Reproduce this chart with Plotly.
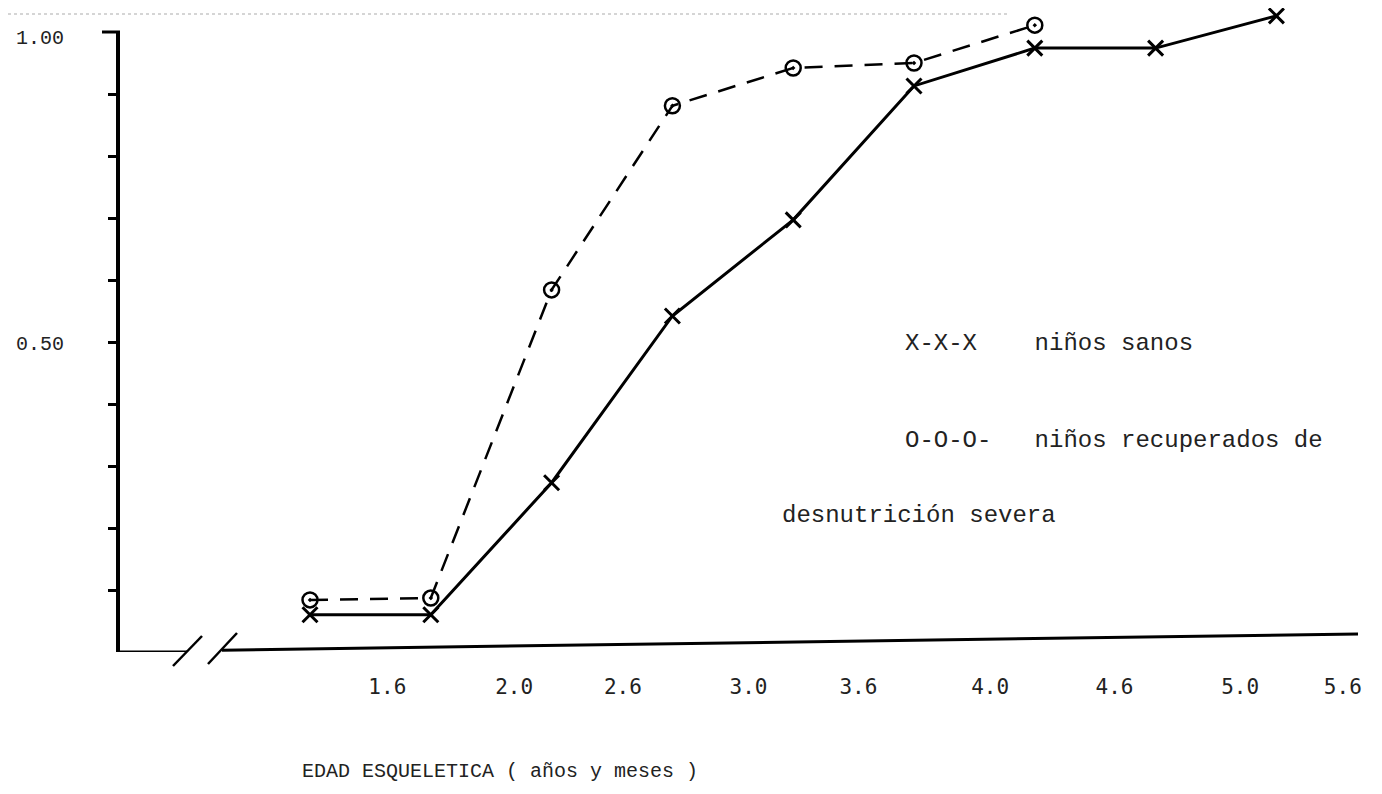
import plotly.graph_objects as go

# ---- data ----
point_pos = [1, 2, 3, 4, 5, 6, 7, 8, 9]
sanos = [0.060, 0.060, 0.273, 0.542, 0.697, 0.913, 0.974, 0.974, 1.026]
recup_pos = [1, 2, 3, 4, 5, 6, 7]
recuperados = [0.084, 0.087, 0.584, 0.881, 0.942, 0.950, 1.011]

x_tick_pos = [1.64, 2.69, 3.59, 4.63, 5.54, 6.63, 7.66, 8.70, 9.55]
x_tick_labels = ["1.6", "2.0", "2.6", "3.0", "3.6", "4.0", "4.6", "5.0", "5.6"]
y_minor_ticks = [0.1, 0.2, 0.3, 0.4, 0.5, 0.6, 0.7, 0.8, 0.9]
y_labels = [(1.0, "1.00"), (0.5, "0.50")]

# ---- layout geometry (page has an 8px body margin) ----
OFF = 8
W, H = 1374, 786
L, R, T = 110, 20, 4
PW = W - L - R          # 1244
PH = 640
B = H - T - PH
YTOP = PH / 620.0       # 620 px per unit


def px_x(px):
    return (px - OFF - L) / PW


def px_y(py):
    return (OFF + T + PH - py) / PH


fig = go.Figure()

fig.add_trace(go.Scatter(
    x=recup_pos, y=recuperados, mode="lines+markers",
    line=dict(color="black", width=2.5, dash="18px,12px"),
    marker=dict(symbol="circle-open-dot", size=15, color="black",
                line=dict(width=2.5, color="black")),
    cliponaxis=False, showlegend=False,
))
fig.add_trace(go.Scatter(
    x=point_pos, y=sanos, mode="lines+markers",
    line=dict(color="black", width=3),
    marker=dict(symbol="x-thin", size=15, color="black",
                line=dict(width=3, color="black")),
    cliponaxis=False, showlegend=False,
))

k = 120.8
x0 = 1 - (310 - OFF - L) / k
x1 = x0 + PW / k

shapes = []
# y axis line and top cap
shapes.append(dict(type="line", xref="paper", yref="y", x0=0, x1=0, y0=0, y1=1.0,
                   line=dict(color="black", width=4)))
shapes.append(dict(type="line", xref="paper", yref="y", x0=px_x(102), x1=px_x(120),
                   y0=1.0, y1=1.0, line=dict(color="black", width=3)))
# x axis with break
shapes.append(dict(type="line", xref="paper", yref="y", x0=0, x1=px_x(188), y0=0, y1=0,
                   line=dict(color="black", width=3)))
shapes.append(dict(type="line", xref="paper", yref="y", x0=px_x(222), x1=px_x(1358),
                   y0=0.003, y1=0.029, line=dict(color="black", width=3)))
# break slashes
shapes.append(dict(type="line", xref="paper", yref="paper", x0=px_x(173), y0=px_y(666),
                   x1=px_x(202), y1=px_y(636), line=dict(color="black", width=2.5)))
shapes.append(dict(type="line", xref="paper", yref="paper", x0=px_x(208), y0=px_y(664),
                   x1=px_x(237), y1=px_y(633), line=dict(color="black", width=2.5)))
# faint scan line at the top
shapes.append(dict(type="line", xref="paper", yref="paper", x0=px_x(8), x1=px_x(1010),
                   y0=px_y(14), y1=px_y(14), line=dict(color="#c8c8c8", width=1.5, dash="dot")))

annotations = []
for v, t in y_labels:
    annotations.append(dict(x=0, y=v, xref="paper", yref="y", text=t, showarrow=False,
                            xanchor="right", yanchor="middle", xshift=-52,
                            yshift=-6 if t == "1.00" else -2,
                            font=dict(family="Liberation Mono", size=20, color="#222")))

legend_font = dict(family="Liberation Mono", size=24, color="#222")
annotations.append(dict(x=px_x(903), y=px_y(343), xref="paper", yref="paper",
                        text="X-X-X    niños sanos", showarrow=False,
                        xanchor="left", yanchor="middle", font=legend_font))
annotations.append(dict(x=px_x(903), y=px_y(440), xref="paper", yref="paper",
                        text="O-O-O-   niños recuperados de", showarrow=False,
                        xanchor="left", yanchor="middle", font=legend_font))
annotations.append(dict(x=px_x(780), y=px_y(515), xref="paper", yref="paper",
                        text="desnutrición severa", showarrow=False,
                        xanchor="left", yanchor="middle", font=legend_font))
annotations.append(dict(x=px_x(300), y=px_y(771), xref="paper", yref="paper",
                        text="EDAD ESQUELETICA ( años y meses )", showarrow=False,
                        xanchor="left", yanchor="middle",
                        font=dict(family="Liberation Mono", size=20, color="#222")))

fig.update_layout(
    width=W, height=H,
    margin=dict(l=L, r=R, t=T, b=B),
    paper_bgcolor="white", plot_bgcolor="white",
    shapes=shapes, annotations=annotations,
    xaxis=dict(range=[x0, x1], showgrid=False, zeroline=False, showline=False,
               tickmode="array", tickvals=x_tick_pos, ticktext=x_tick_labels,
               ticks="", ticklabelstandoff=20,
               tickfont=dict(family="DejaVu Sans Mono", size=21, color="#222")),
    yaxis=dict(range=[0, YTOP], showgrid=False, zeroline=False, showline=False,
               tickmode="array", tickvals=y_minor_ticks, ticks="outside",
               ticklen=9, tickwidth=2.5, tickcolor="black", showticklabels=False),
)

fig.write_html("out.html")
